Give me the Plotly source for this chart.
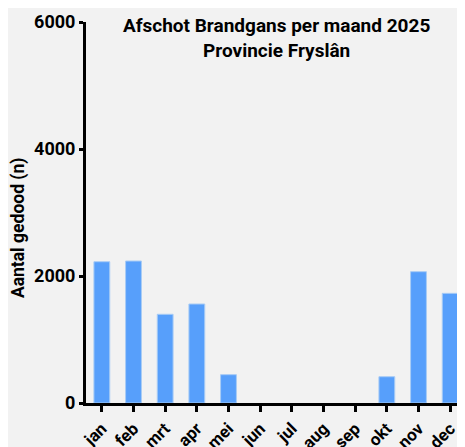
import plotly.graph_objects as go

months = ["jan", "feb", "mrt", "apr", "mei", "jun", "jul", "aug", "sep", "okt", "nov", "dec"]
values = [2225, 2236, 1397, 1559, 446, 0, 0, 0, 0, 414, 2068, 1727]
y_ticks = [0, 2000, 4000, 6000]

FONT = "Roboto"
fig = go.Figure()
fig.add_trace(go.Bar(
    x=months, y=values, width=0.5,
    marker=dict(color="#579ffb",
                line=dict(color="#a9ccf5", width=[1 if v > 0 else 0 for v in values])),
))
fig.update_layout(
    width=465, height=447,
    margin=dict(l=78, r=7, t=14, b=52),
    paper_bgcolor="#f2f2f2", plot_bgcolor="#f2f2f2",
    showlegend=False,
    font=dict(family=FONT, color="black", size=14),
    annotations=[
        dict(text="<b>Afschot Brandgans per maand 2025<br>Provincie Fryslân</b>",
             x=0.5, y=1.025, xref="paper", yref="paper", xanchor="center", yanchor="top",
             showarrow=False, font=dict(size=19, family=FONT)),
        dict(text="<b>Aantal gedood (n)</b>", x=-0.178, y=0.46, xref="paper", yref="paper",
             textangle=-90, showarrow=False, xanchor="center", yanchor="middle",
             font=dict(size=17.5, family=FONT)),
    ],
)
fig.update_xaxes(
    range=[-0.5, 11.5], showline=True, linecolor="black", linewidth=3,
    ticks="outside", ticklen=6, tickwidth=3, tickcolor="black",
    tickangle=-45, tickfont=dict(size=17, family=FONT),
    showgrid=False, zeroline=False, automargin=False,
    tickprefix="<b>", ticksuffix="</b>",
)
fig.update_yaxes(
    range=[0, 6000], tickvals=y_ticks, ticktext=[f"<b>{v}</b>" for v in y_ticks],
    showline=True, linecolor="black", linewidth=3,
    ticks="outside", ticklen=4, tickwidth=3, tickcolor="black",
    tickfont=dict(size=18, family=FONT), showgrid=False, zeroline=False, automargin=False,
)
fig.write_html("out.html")
